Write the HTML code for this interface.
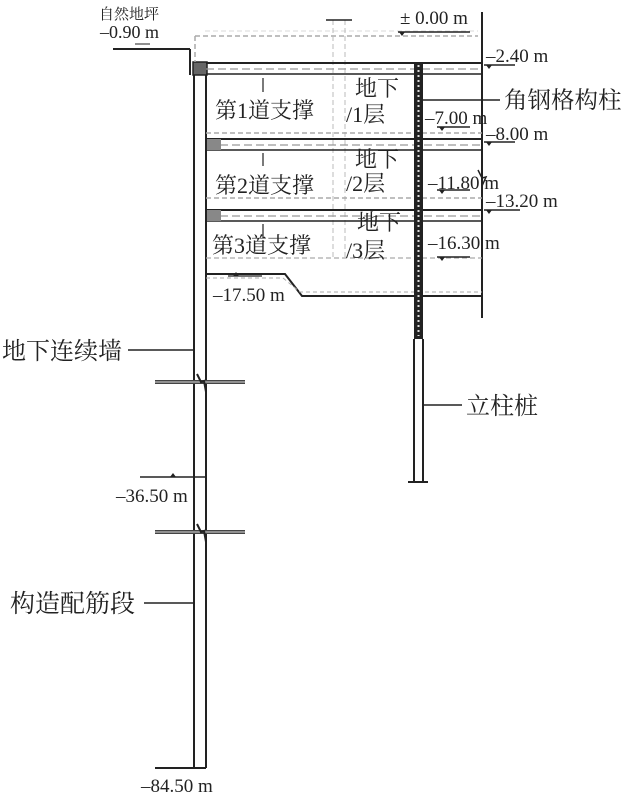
<!DOCTYPE html>
<html><head><meta charset="utf-8"><style>
html,body{margin:0;padding:0;background:#fff;}
svg text{font-family:"Liberation Serif","Noto Serif CJK SC",serif;fill:#222;}
</style></head><body>
<svg width="625" height="797" viewBox="0 0 625 797" xmlns="http://www.w3.org/2000/svg">
<g stroke="#222" fill="none">
<line x1="113" y1="49" x2="190" y2="49" stroke-width="2"/>
<line x1="190" y1="49" x2="190" y2="75" stroke-width="2"/>
<line x1="135" y1="44" x2="150" y2="44" stroke-width="1"/>
<line x1="194" y1="62" x2="194" y2="768" stroke-width="2"/>
<line x1="206" y1="62" x2="206" y2="768" stroke-width="2"/>
<rect x="193" y="62" width="14" height="13" fill="#666" stroke-width="1.5"/>
<line x1="155" y1="768" x2="206" y2="768" stroke-width="2"/>
<line x1="482" y1="12" x2="482" y2="318" stroke-width="2"/>
<path d="M195 36 H478 M195 36 V62" stroke="#aaa" stroke-dasharray="5 3" stroke-width="1.5"/>
<line x1="205" y1="31" x2="478" y2="31" stroke="#ccc" stroke-width="0.8" stroke-dasharray="5 3"/>
<path d="M333 20 V258 M345 20 V258" stroke="#bbb" stroke-dasharray="5 3" stroke-width="1"/>
<line x1="326" y1="20" x2="352" y2="20" stroke-width="1.5"/>
<line x1="206" y1="63" x2="482" y2="63" stroke-width="2"/>
<line x1="206" y1="69" x2="482" y2="69" stroke="#999" stroke-dasharray="8 4" stroke-width="1.2"/>
<line x1="206" y1="74" x2="482" y2="74" stroke-width="1.5"/>
<line x1="206" y1="133" x2="482" y2="133" stroke="#aaa" stroke-dasharray="5 3" stroke-width="1.5"/>
<line x1="206" y1="139" x2="482" y2="139" stroke-width="2"/>
<line x1="220" y1="145" x2="482" y2="145" stroke="#999" stroke-dasharray="8 4" stroke-width="1.2"/>
<line x1="206" y1="150" x2="482" y2="150" stroke-width="1.5"/>
<rect x="207" y="139" width="14" height="11" fill="#888" stroke="none"/>
<line x1="206" y1="198" x2="482" y2="198" stroke="#aaa" stroke-dasharray="5 3" stroke-width="1.5"/>
<line x1="206" y1="210" x2="482" y2="210" stroke-width="2"/>
<line x1="220" y1="216" x2="482" y2="216" stroke="#999" stroke-dasharray="8 4" stroke-width="1.2"/>
<line x1="206" y1="221" x2="482" y2="221" stroke-width="1.5"/>
<rect x="207" y="210" width="14" height="11" fill="#888" stroke="none"/>
<line x1="206" y1="258" x2="482" y2="258" stroke="#aaa" stroke-dasharray="5 3" stroke-width="1.2"/>
<path d="M206 274 H285 L302 296 H482" stroke-width="2"/>
<path d="M206 278 H283 L300 292 H482" stroke="#aaa" stroke-dasharray="4 3" stroke-width="1"/>
<line x1="263" y1="78" x2="263" y2="92" stroke-width="1.2"/>
<line x1="263" y1="153" x2="263" y2="166" stroke-width="1.2"/>
<line x1="263" y1="224" x2="263" y2="238" stroke-width="1.2"/>
<rect x="414" y="63" width="9" height="276" fill="#222" stroke="none"/>
<line x1="418.5" y1="65" x2="418.5" y2="336" stroke="#ddd" stroke-width="2" stroke-dasharray="2 3"/>
<line x1="414" y1="339" x2="414" y2="482" stroke-width="2"/>
<line x1="423" y1="339" x2="423" y2="482" stroke-width="2"/>
<line x1="408" y1="482" x2="428" y2="482" stroke-width="2"/>
<line x1="423" y1="100" x2="500" y2="100" stroke-width="1.5"/>
<line x1="423" y1="405" x2="462" y2="405" stroke-width="1.5"/>
<line x1="128" y1="350" x2="194" y2="350" stroke-width="1.5"/>
<line x1="144" y1="603" x2="194" y2="603" stroke-width="1.5"/>
<line x1="155" y1="382" x2="245" y2="382" stroke="#444" stroke-width="4"/>
<line x1="155" y1="532" x2="245" y2="532" stroke="#444" stroke-width="4"/>
<line x1="155" y1="382" x2="245" y2="382" stroke="#ddd" stroke-width="1"/>
<line x1="155" y1="532" x2="245" y2="532" stroke="#ddd" stroke-width="1"/>
<path d="M197 374 L201 382 L204 381 L206 392" stroke-width="2"/>
<path d="M197 524 L201 532 L204 531 L206 542" stroke-width="2"/>
<path d="M478 170 L482 178 L486 177 L482 186" stroke-width="1.5"/>
<line x1="140" y1="477" x2="206" y2="477" stroke-width="1.5"/>
<line x1="228" y1="276" x2="262" y2="276" stroke-width="1.2"/>
<line x1="398" y1="32" x2="470" y2="32" stroke-width="1.5"/>
<line x1="484" y1="65" x2="515" y2="65" stroke-width="1.5"/>
<line x1="437" y1="127" x2="470" y2="127" stroke-width="1.5"/>
<line x1="484" y1="142" x2="515" y2="142" stroke-width="1.5"/>
<line x1="437" y1="190" x2="470" y2="190" stroke-width="1.5"/>
<line x1="484" y1="210" x2="520" y2="210" stroke-width="1.5"/>
<line x1="437" y1="257" x2="470" y2="257" stroke-width="1.5"/>
</g>
<g fill="#222" stroke="none">
<path d="M399 32 h6 l-3 4z"/><path d="M486 65 h6 l-3 4z"/><path d="M439 127 h6 l-3 4z"/>
<path d="M486 142 h6 l-3 4z"/><path d="M439 190 h6 l-3 4z"/><path d="M486 210 h6 l-3 4z"/>
<path d="M439 257 h6 l-3 4z"/><path d="M233 276 h6 l-3 -4z"/><path d="M170 477 h6 l-3 -4z"/>
</g>
<g font-size="19">
<text x="99" y="19" font-size="15">自然地坪</text>
<text x="100" y="38" font-size="18">–0.90 m</text>
<text x="400" y="24">± 0.00 m</text>
<text x="486" y="62">–2.40 m</text>
<text x="425" y="124">–7.00 m</text>
<text x="486" y="140">–8.00 m</text>
<text x="428" y="189">–11.80 m</text>
<text x="486" y="207">–13.20 m</text>
<text x="428" y="249">–16.30 m</text>
<text x="213" y="301">–17.50 m</text>
<text x="116" y="502">–36.50 m</text>
<text x="141" y="792">–84.50 m</text>
</g>
<g font-size="22">
<text x="215" y="118">第1道支撑</text>
<text x="215" y="193">第2道支撑</text>
<text x="212" y="253">第3道支撑</text>
<text x="355" y="96">地下</text><text x="346" y="122">/1层</text>
<text x="355" y="167">地下</text><text x="346" y="191">/2层</text>
<text x="357" y="230">地下</text><text x="346" y="258">/3层</text>
<text x="504" y="108" font-size="23.5">角钢格构柱</text>
<text x="2" y="359" font-size="24">地下连续墙</text>
<text x="466" y="414" font-size="24">立柱桩</text>
<text x="10" y="612" font-size="25">构造配筋段</text>
</g>
</svg>
</body></html>
